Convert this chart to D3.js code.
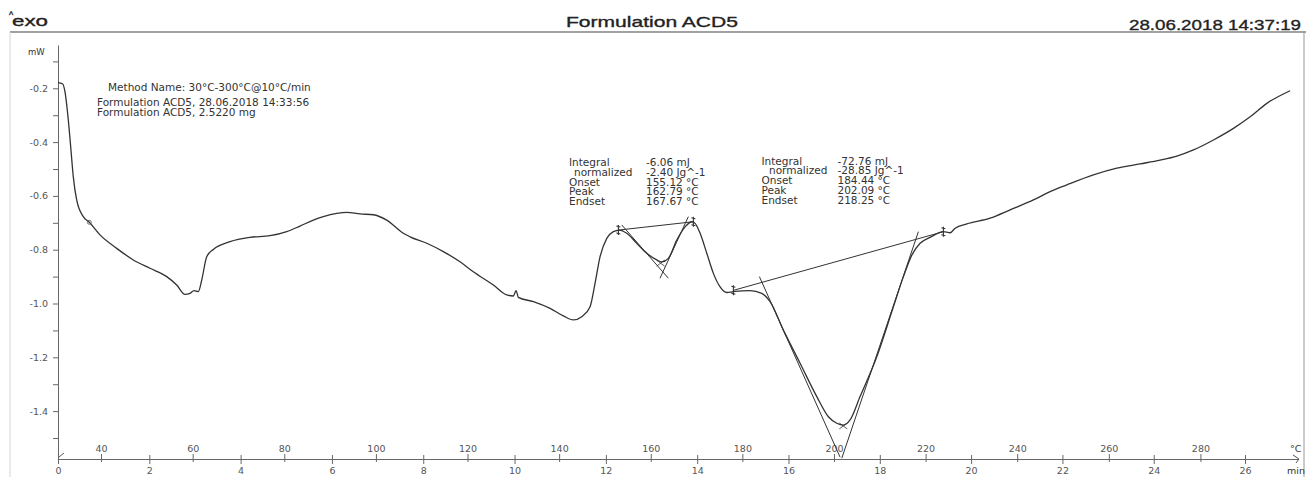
<!DOCTYPE html>
<html>
<head>
<meta charset="utf-8">
<script src="https://cdn.jsdelivr.net/npm/d3@7"></script>
<style>
  body { margin: 0; background: #fff; }
  svg { display: block; }
  .tick text { font-family: "DejaVu Sans", Verdana, sans-serif; font-size: 9.5px; fill: #555; }
  .tick line, .domain { stroke: #666; }
  .note { font-family: "DejaVu Sans", Verdana, sans-serif; font-size: 10.5px; fill: #333; }
  .head { font-family: "Liberation Sans", Arial, sans-serif; font-size: 15px; fill: #222; stroke: #222; stroke-width: 0.35px; }
</style>
</head>
<body>
<svg id="chart" width="1306" height="477"></svg>
<script>
// DSC curve, time in min, heat flow in mW
const time = [0, 0.103, 0.153, 0.226, 0.278, 0.335, 0.41, 0.554, 0.686, 0.92, 1.286, 1.65, 2.015, 2.381, 2.6, 2.782, 2.892, 2.979, 3.073, 3.148, 3.257, 3.402, 3.768, 4.206, 4.644, 5.01, 5.301, 5.593, 5.812, 6.105, 6.324, 6.616, 6.907, 7.2, 7.564, 7.711, 8.077, 8.44, 8.806, 9.097, 9.536, 9.829, 9.974, 10.033, 10.083, 10.412, 10.778, 11.069, 11.288, 11.472, 11.654, 11.763, 11.873, 12.02, 12.164, 12.296, 12.458, 12.677, 12.896, 13.115, 13.225, 13.369, 13.553, 13.735, 13.882, 13.954, 14.064, 14.21, 14.355, 14.502, 14.649, 14.793, 15.159, 15.415, 15.597, 15.888, 16.254, 16.62, 16.874, 17.058, 17.203, 17.349, 17.568, 17.934, 18.298, 18.517, 18.701, 18.883, 19.102, 19.393, 19.54, 19.65, 19.906, 20.416, 20.854, 21.365, 21.731, 22.097, 22.679, 23.192, 23.702, 24.14, 24.506, 24.87, 25.308, 25.746, 26.112, 26.478, 26.988]
const heatFlow = [-0.179, -0.184, -0.213, -0.318, -0.417, -0.529, -0.616, -0.677, -0.698, -0.745, -0.795, -0.838, -0.869, -0.9, -0.931, -0.966, -0.962, -0.952, -0.956, -0.913, -0.826, -0.799, -0.77, -0.754, -0.748, -0.733, -0.712, -0.69, -0.677, -0.665, -0.661, -0.667, -0.67, -0.69, -0.739, -0.752, -0.776, -0.807, -0.845, -0.882, -0.931, -0.968, -0.972, -0.952, -0.977, -0.993, -1.018, -1.046, -1.061, -1.049, -1.012, -0.925, -0.826, -0.758, -0.733, -0.727, -0.739, -0.776, -0.813, -0.838, -0.845, -0.832, -0.764, -0.715, -0.696, -0.702, -0.739, -0.813, -0.888, -0.938, -0.959, -0.956, -0.952, -0.962, -0.993, -1.099, -1.222, -1.346, -1.421, -1.445, -1.452, -1.433, -1.346, -1.198, -1.012, -0.9, -0.82, -0.776, -0.754, -0.733, -0.737, -0.72, -0.704, -0.683, -0.652, -0.615, -0.584, -0.559, -0.522, -0.497, -0.481, -0.467, -0.452, -0.429, -0.392, -0.349, -0.306, -0.256, -0.209]

const yLabelTicks = [-0.2, -0.4, -0.6, -0.8, -1.0, -1.2, -1.4]
const yMinorTicks = [-0.1, -0.3, -0.5, -0.7, -0.9, -1.1, -1.3, -1.5]
const timeTicks = [0, 2, 4, 6, 8, 10, 12, 14, 16, 18, 20, 22, 24, 26]
const tempTicks = [40, 60, 80, 100, 120, 140, 160, 180, 200, 220, 240, 260, 280]

// evaluation lines [t, mW]
const peak1Baseline = [[12.274, -0.727], [13.917, -0.696]]
const peak1Tangents = [[[12.348, -0.708], [13.369, -0.906]], [[13.807, -0.677], [13.186, -0.906]]]
const peak1Point = [13.2, -0.85]
const peak2Baseline = [[14.793, -0.951], [19.393, -0.733]]
const peak2Tangents = [[[15.363, -0.9], [17.13, -1.571]], [[18.845, -0.733], [17.168, -1.575]]]
const peak2Point = [17.2, -1.455]

const methodLines = ["Method Name: 30°C-300°C@10°C/min", "Formulation ACD5, 28.06.2018 14:33:56", "Formulation ACD5, 2.5220 mg"]
const evalLabels = ["Integral", "normalized", "Onset", "Peak", "Endset"]
const peak1Values = ["-6.06 mJ", "-2.40 Jg^-1", "155.12 °C", "162.79 °C", "167.67 °C"]
const peak2Values = ["-72.76 mJ", "-28.85 Jg^-1", "184.44 °C", "202.09 °C", "218.25 °C"]

const svg = d3.select("#chart")

const x = d3.scaleLinear().domain([0, 27.16]).range([58, 1298])
const xT = d3.scaleLinear().domain([30.6, 301.3]).range([58, 1298])
const y = d3.scaleLinear().domain([-0.039, -1.578]).range([45, 459])

// frame + header
svg.append("line").attr("x1", 10).attr("x2", 1306).attr("y1", 32).attr("y2", 32).attr("stroke", "#444").attr("stroke-width", 1.2)
svg.append("line").attr("x1", 10).attr("x2", 10).attr("y1", 32).attr("y2", 477).attr("stroke", "#d4d4d4")
svg.append("line").attr("x1", 1304).attr("x2", 1304).attr("y1", 32).attr("y2", 477).attr("stroke", "#999")

svg.append("text").attr("class", "head").attr("x", 9).attr("y", 18).style("font-size", "9px").text("^")
svg.append("text").attr("class", "head").attr("x", 12).attr("y", 26)
    .attr("textLength", 36).attr("lengthAdjust", "spacingAndGlyphs").text("exo")
svg.append("text").attr("class", "head").attr("x", 566).attr("y", 27)
    .attr("textLength", 172).attr("lengthAdjust", "spacingAndGlyphs").text("Formulation ACD5")
svg.append("text").attr("class", "head").attr("x", 1129).attr("y", 30)
    .attr("textLength", 172).attr("lengthAdjust", "spacingAndGlyphs").text("28.06.2018 14:37:19")

// y axis
const yAxis = svg.append("g").attr("transform", "translate(58,0)")
    .call(d3.axisLeft(y).tickValues(yLabelTicks).tickSize(5).tickPadding(5).tickSizeOuter(0).tickFormat(d3.format(".1f")))
yAxis.select(".domain").attr("stroke", "#777")
yAxis.selectAll(".tick text").text(d => d3.format(".1f")(d).replace("−", "-"))
svg.append("g").attr("transform", "translate(58,0)")
    .call(d3.axisLeft(y).tickValues(yMinorTicks).tickSize(5).tickFormat(""))
    .select(".domain").remove()
svg.append("text").attr("class", "note").attr("x", 28).attr("y", 55).style("font-size", "8.5px").attr("fill", "#444").text("mW")

// x axes (time below, temperature above)
const tAxis = svg.append("g").attr("transform", "translate(0,459)")
    .call(d3.axisBottom(x).tickValues(timeTicks).tickSize(5).tickPadding(3).tickSizeOuter(0))
tAxis.selectAll(".tick line").attr("y1", -4)
tAxis.select(".domain").attr("stroke", "#555")
const TAxis = svg.append("g").attr("transform", "translate(0,459)")
    .call(d3.axisTop(xT).tickValues(tempTicks).tickSize(5).tickPadding(2))
TAxis.selectAll(".tick line").attr("y1", 3)
TAxis.select(".domain").remove()
svg.append("text").attr("class", "note").attr("x", 1290).attr("y", 452).style("font-size", "9.5px").attr("fill", "#555").text("°C")
svg.append("text").attr("class", "note").attr("x", 1287).attr("y", 474).style("font-size", "9.5px").attr("fill", "#555").text("min")
svg.append("path").attr("d", "M1293,455 L1299,459 L1296,463").attr("fill", "none").attr("stroke", "#555")
svg.append("path").attr("d", "M59,457 L64,453").attr("fill", "none").attr("stroke", "#555")

// curve
const pts = time.map((t, i) => [t, heatFlow[i]])
const line = d3.line().x(d => x(d[0])).y(d => y(d[1])).curve(d3.curveMonotoneX)
svg.append("path").datum(pts).attr("d", line)
    .attr("fill", "none").attr("stroke", "#333").attr("stroke-width", 1.3)
svg.append("circle").attr("cx", x(0.686)).attr("cy", y(-0.698)).attr("r", 2)
    .attr("fill", "none").attr("stroke", "#555").attr("stroke-width", 0.8)

// evaluation overlays
const seg = d3.line().x(d => x(d[0])).y(d => y(d[1]))
const evalG = svg.append("g").attr("fill", "none").attr("stroke", "#333").attr("stroke-width", 1)
;[peak1Baseline, peak2Baseline, ...peak1Tangents, ...peak2Tangents].forEach(s => evalG.append("path").attr("d", seg(s)))
;[peak1Baseline, peak2Baseline].forEach(b => b.forEach(p => {
  const cx = x(p[0]), cy = y(p[1])
  evalG.append("path").attr("d", `M${cx},${cy - 5} L${cx},${cy + 5} M${cx - 2},${cy - 4} L${cx + 2},${cy - 3} M${cx - 2},${cy + 3} L${cx + 2},${cy + 4}`)
    .attr("stroke-width", 1.1)
}))
;[peak1Point, peak2Point].forEach(p => {
  const cx = x(p[0]), cy = y(p[1])
  evalG.append("path").attr("d", `M${cx - 4},${cy - 3} L${cx + 4},${cy + 3} M${cx - 4},${cy + 3} L${cx + 4},${cy - 3}`)
    .attr("stroke-width", 0.8)
})

// text blocks
const methodX = [108, 97, 97]
const methodY = [91, 106, 115.5]
svg.selectAll(".method").data(methodLines).enter().append("text")
    .attr("class", "note").attr("x", (d, i) => methodX[i]).attr("y", (d, i) => methodY[i]).text(d => d)

function evalBlock(values, lx, nx, vx, y0) {
  evalLabels.forEach((lab, i) => {
    svg.append("text").attr("class", "note").attr("x", i === 1 ? nx : lx).attr("y", y0 + i * 9.8).text(lab)
    svg.append("text").attr("class", "note").attr("x", vx).attr("y", y0 + i * 9.8).text(values[i])
  })
}
evalBlock(peak1Values, 569, 574, 646, 166)
evalBlock(peak2Values, 761.5, 769, 837.5, 164.5)
</script>
</body>
</html>
